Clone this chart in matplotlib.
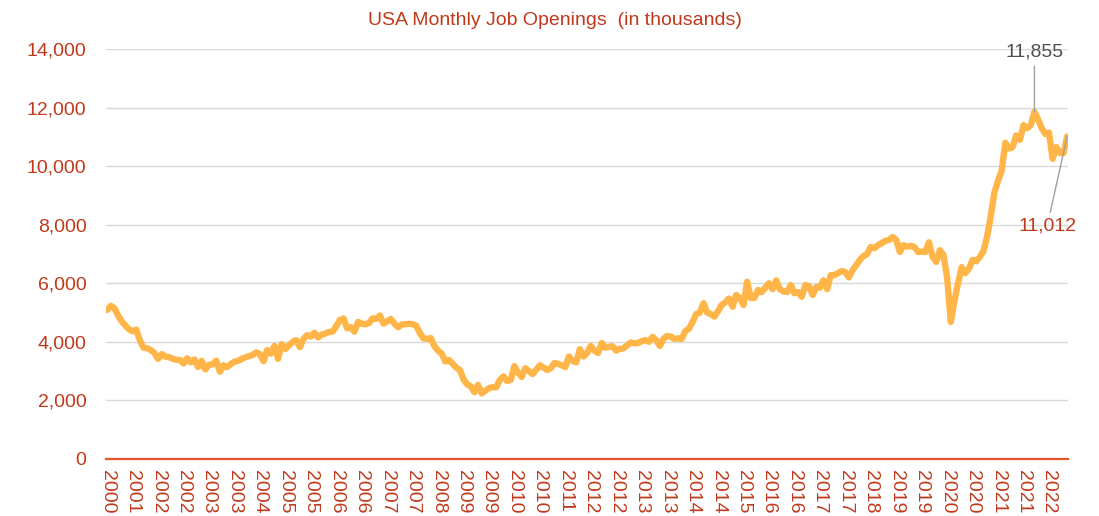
import numpy as np
import pandas as pd
import matplotlib
matplotlib.use("Agg")
import matplotlib.pyplot as plt

plt.rcParams['font.family'] = ['Liberation Sans', 'DejaVu Sans']

title = "USA Monthly Job Openings  (in thousands)"
start_month = "2000-12"

# monthly job openings (thousands), Dec 2000 .. Dec 2022, one row per year
openings = [
    5090,
    5230, 5150, 4900, 4700, 4560, 4430, 4360, 4420, 4050, 3800, 3780, 3720,   # 2001
    3620, 3420, 3580, 3500, 3480, 3420, 3390, 3380, 3260, 3440, 3300, 3400,   # 2002
    3140, 3350, 3060, 3220, 3230, 3360, 2980, 3200, 3140, 3240, 3320, 3350,   # 2003
    3420, 3470, 3510, 3550, 3640, 3580, 3340, 3720, 3600, 3860, 3420, 3920,   # 2004
    3760, 3880, 4000, 4060, 3820, 4100, 4230, 4180, 4310, 4150, 4250, 4280,   # 2005
    4340, 4350, 4530, 4750, 4800, 4460, 4500, 4350, 4680, 4620, 4600, 4640,   # 2006
    4800, 4780, 4900, 4620, 4700, 4780, 4620, 4500, 4590, 4600, 4620, 4600,   # 2007
    4550, 4300, 4120, 4100, 4130, 3850, 3700, 3600, 3330, 3380, 3250, 3120,   # 2008
    3040, 2720, 2550, 2480, 2280, 2530, 2240, 2330, 2420, 2450, 2450, 2700,   # 2009
    2820, 2660, 2700, 3170, 2950, 2800, 3100, 3000, 2900, 3050, 3200, 3120,   # 2010
    3040, 3100, 3280, 3250, 3200, 3140, 3500, 3350, 3300, 3750, 3500, 3620,   # 2011
    3860, 3700, 3620, 3960, 3800, 3830, 3850, 3700, 3760, 3780, 3880, 3980,   # 2012
    3950, 3960, 4020, 4060, 4000, 4170, 4050, 3860, 4100, 4200, 4180, 4100,   # 2013
    4120, 4100, 4370, 4450, 4680, 4950, 5000, 5320, 5000, 4950, 4860, 5050,   # 2014
    5260, 5350, 5480, 5200, 5600, 5500, 5260, 6050, 5500, 5500, 5770, 5700,   # 2015
    5850, 6000, 5800, 6100, 5800, 5720, 5700, 5940, 5660, 5700, 5540, 5940,   # 2016
    5900, 5600, 5870, 5850, 6100, 5800, 6280, 6280, 6350, 6420, 6380, 6200,   # 2017
    6450, 6620, 6800, 6930, 7000, 7240, 7200, 7300, 7370, 7450, 7480, 7580,   # 2018
    7480, 7070, 7300, 7250, 7280, 7240, 7070, 7080, 7070, 7400, 6900, 6730,   # 2019
    7130, 6960, 6200, 4680, 5400, 6000, 6550, 6350, 6500, 6800, 6750, 6900,   # 2020
    7100, 7600, 8300, 9100, 9500, 9850, 10800, 10600, 10650, 11050, 10900, 11400,  # 2021
    11300, 11400, 11855, 11600, 11300, 11100, 11150, 10250, 10650, 10450, 10450, 11012,  # 2022
]

months = pd.period_range(start_month, periods=len(openings), freq="M")
x = np.arange(len(openings))

red = "#C0391B"

fig = plt.figure(figsize=(10.99, 5.16), dpi=100)
ax = fig.add_axes([0.0965, 0.1105, 0.8755, 0.7945])

ax.plot(x, openings, color="#FFB547", lw=4.6, solid_joinstyle="round",
        solid_capstyle="round", zorder=3)

ax.set_xlim(-0.3, len(openings) - 0.7)
ax.set_ylim(0, 14000)
ax.set_yticks(range(0, 14001, 2000))
ax.set_yticklabels([f"{v:,}" for v in range(0, 14001, 2000)])
ax.grid(axis="y", color="#D9D9D9", lw=1)
ax.set_axisbelow(True)

tick_pos = x[::7]
ax.set_xticks(tick_pos)
ax.set_xticklabels([str(months[i].year) for i in tick_pos], rotation=-90)

ax.tick_params(axis="both", length=0, labelsize=14, labelcolor=red)
ax.tick_params(axis="x", pad=8)
ax.tick_params(axis="y", pad=14)
for s in ["top", "right", "left"]:
    ax.spines[s].set_visible(False)
ax.spines["bottom"].set_color("#E8552A")
ax.spines["bottom"].set_linewidth(1.6)

fig.text(0.505, 0.961, title, color=red, fontsize=14, ha="center", va="center")

peak = int(np.argmax(openings))
last = len(openings) - 1
ax.annotate(f"{openings[peak]:,}", xy=(peak, openings[peak]), xytext=(peak, 13900),
            ha="center", va="center", fontsize=14, color="#505050",
            arrowprops=dict(arrowstyle="-", color="#A0A0A0", lw=1, shrinkB=0))
ax.annotate(f"{openings[last]:,}", xy=(last, openings[last]), xytext=(last - 5.5, 7950),
            ha="center", va="center", fontsize=14, color=red,
            arrowprops=dict(arrowstyle="-", color="#A0A0A0", lw=1, shrinkB=0),
            annotation_clip=False)

fig.savefig("out.png", dpi=100)
